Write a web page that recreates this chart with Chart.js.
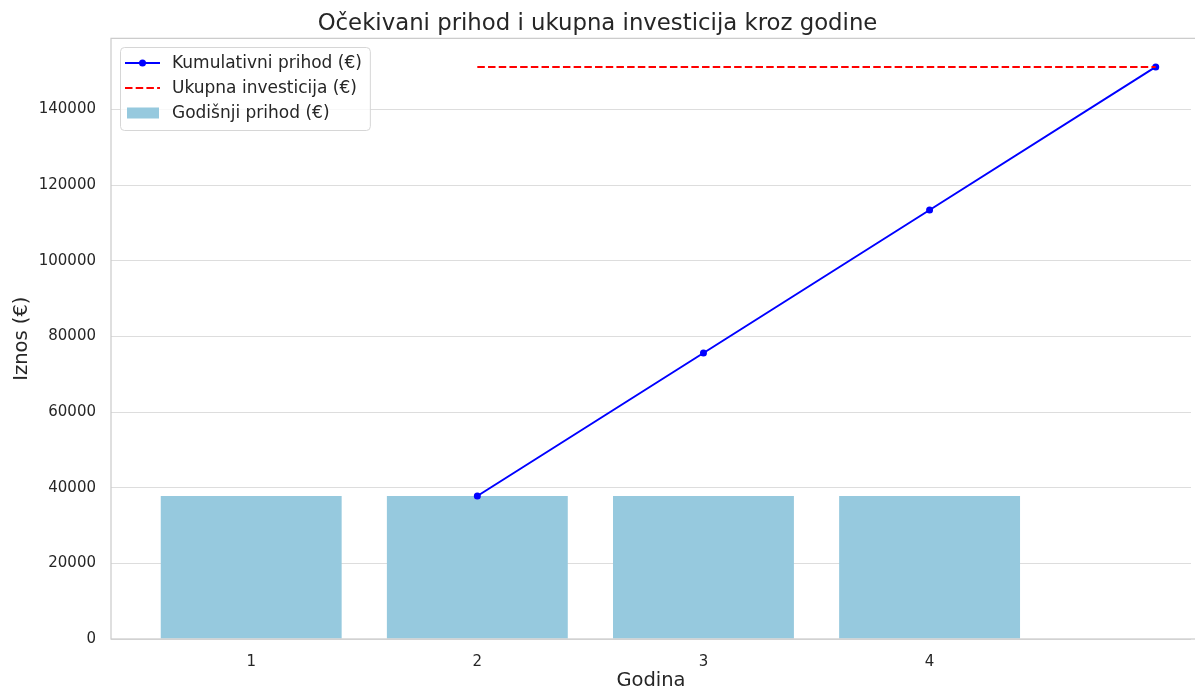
<!DOCTYPE html>
<html>
<head>
<meta charset="utf-8">
<script src="https://cdn.jsdelivr.net/npm/chart.js@4.4.1/dist/chart.umd.min.js"></script>
<style>
    html, body { margin: 0; padding: 0; background: #ffffff; }
    #wrap { width: 1195px; height: 692px; }
</style>
</head>
<body>
<div id="wrap"><canvas id="grafico"></canvas></div>
<script>
// Podaci
const godine = ["1", "2", "3", "4"];
const godisnjiPrihod = [37800, 37800, 37800, 37800];
const kumulativniPrihod = [37800, 75600, 113400, 151200];
const ukupnaInvesticija = 151200;
const yTicks = [0, 20000, 40000, 60000, 80000, 100000, 120000, 140000];

const FONT = "DejaVu Sans";
const TEXT = "#262626";
const BAR_COLOR = "#96c9de";

// bars on index 0..3, line (as in the original plot) on 1..4
const barPoints = godisnjiPrihod.map((v, i) => ({ x: i, y: v }));
const linePoints = kumulativniPrihod.map((v, i) => ({ x: i + 1, y: v }));
const investPoints = [
    { x: 1, y: ukupnaInvesticija },
    { x: godine.length, y: ukupnaInvesticija },
];

// okvir oko grafa
const frame = {
    id: "frame",
    afterDraw(chart) {
        const { ctx, chartArea: a } = chart;
        ctx.save();
        ctx.strokeStyle = "#cccccc";
        ctx.lineWidth = 1.25;
        ctx.strokeRect(a.left, a.top, a.right - a.left + 10, a.bottom - a.top);
        ctx.restore();
    },
};

// legenda u gornjem lijevom kutu
const legendBox = {
    id: "legendBox",
    afterDraw(chart) {
        const ctx = chart.ctx;
        const items = chart.data.datasets;
        const order = [1, 2, 0];
        ctx.save();
        ctx.font = "17px '" + FONT + "'";
        let maxW = 0;
        order.forEach((i) => {
            maxW = Math.max(maxW, ctx.measureText(items[i].label).width);
        });
        const x0 = 120, y0 = 47;
        const w = 52 + maxW + 8, h = 83;
        ctx.fillStyle = "rgba(255,255,255,0.8)";
        ctx.strokeStyle = "#d6d6d6";
        ctx.lineWidth = 1;
        ctx.beginPath();
        ctx.roundRect(x0 + 0.5, y0 + 0.5, w, h, 4);
        ctx.fill();
        ctx.stroke();

        const rows = [63, 88, 113];
        order.forEach((i, r) => {
            const ds = items[i];
            const y = rows[r];
            if (ds.type === "line" && !ds.borderDash) {
                ctx.strokeStyle = ds.borderColor;
                ctx.lineWidth = 2;
                ctx.setLineDash([]);
                ctx.beginPath();
                ctx.moveTo(125, y);
                ctx.lineTo(160, y);
                ctx.stroke();
                ctx.fillStyle = ds.borderColor;
                ctx.beginPath();
                ctx.arc(142.5, y, 3.5, 0, Math.PI * 2);
                ctx.fill();
            } else if (ds.type === "line") {
                ctx.strokeStyle = ds.borderColor;
                ctx.lineWidth = 2;
                ctx.setLineDash(ds.borderDash);
                ctx.beginPath();
                ctx.moveTo(125, y);
                ctx.lineTo(160, y);
                ctx.stroke();
                ctx.setLineDash([]);
            } else {
                ctx.fillStyle = ds.backgroundColor;
                ctx.fillRect(127, y - 5.5, 32, 11);
            }
            ctx.fillStyle = TEXT;
            ctx.textBaseline = "middle";
            ctx.textAlign = "left";
            ctx.fillText(ds.label, 172, y + 1);
        });
        ctx.restore();
    },
};

const data = {
    datasets: [
        {
            type: "bar",
            label: "Godišnji prihod (€)",
            data: barPoints,
            backgroundColor: BAR_COLOR,
            categoryPercentage: 1,
            barPercentage: 0.8,
            order: 3,
        },
        {
            type: "line",
            label: "Kumulativni prihod (€)",
            data: linePoints,
            borderColor: "#0000ff",
            backgroundColor: "#0000ff",
            borderWidth: 2,
            pointRadius: 3.5,
            pointBorderWidth: 0,
            tension: 0,
            order: 2,
        },
        {
            type: "line",
            label: "Ukupna investicija (€)",
            data: investPoints,
            borderColor: "#ff0000",
            borderWidth: 2,
            borderDash: [7.5, 3.2],
            pointRadius: 0,
            order: 1,
        },
    ],
};

const options = {
    responsive: true,
    maintainAspectRatio: false,
    animation: false,
    layout: { padding: 0 },
    scales: {
        x: {
            type: "linear",
            offset: false,
            min: -0.62,
            max: 4.156,
            afterBuildTicks: (scale) => {
                scale.ticks = godine.map((g, i) => ({ value: i }));
            },
            afterFit: (scale) => {
                scale.height = 53;
            },
            ticks: {
                callback: (v) => godine[v],
                font: { family: FONT, size: 15 },
                color: TEXT,
                padding: 14,
                maxRotation: 0,
            },
            grid: { display: false, drawTicks: false, offset: false },
            border: { display: false },
            title: {
                display: true,
                text: "Godina",
                font: { family: FONT, size: 19.5, lineHeight: 1 },
                color: TEXT,
                padding: { top: 0, bottom: 1 },
            },
        },
        y: {
            min: 0,
            max: 158760,
            afterBuildTicks: (scale) => {
                scale.ticks = yTicks.map((v) => ({ value: v }));
            },
            afterFit: (scale) => {
                scale.width = 111;
            },
            ticks: {
                callback: (v) => String(v),
                font: { family: FONT, size: 15 },
                color: TEXT,
                padding: 15,
            },
            grid: { color: "#dddddd", lineWidth: 1, drawTicks: false },
            border: { display: false },
            title: {
                display: true,
                text: "Iznos (€)",
                font: { family: FONT, size: 19.5, lineHeight: 1 },
                color: TEXT,
                padding: { top: 12, bottom: 0 },
            },
        },
    },
    plugins: {
        legend: { display: false },
        tooltip: { enabled: false },
        title: {
            display: true,
            text: "Očekivani prihod i ukupna investicija kroz godine",
            font: { family: FONT, size: 22.8, weight: "normal", lineHeight: 1.2 },
            color: TEXT,
            padding: { top: 10, bottom: 1 },
        },
    },
};

new Chart(document.getElementById("grafico"), {
    type: "bar",
    data: data,
    options: options,
    plugins: [frame, legendBox],
});
</script>
</body>
</html>
